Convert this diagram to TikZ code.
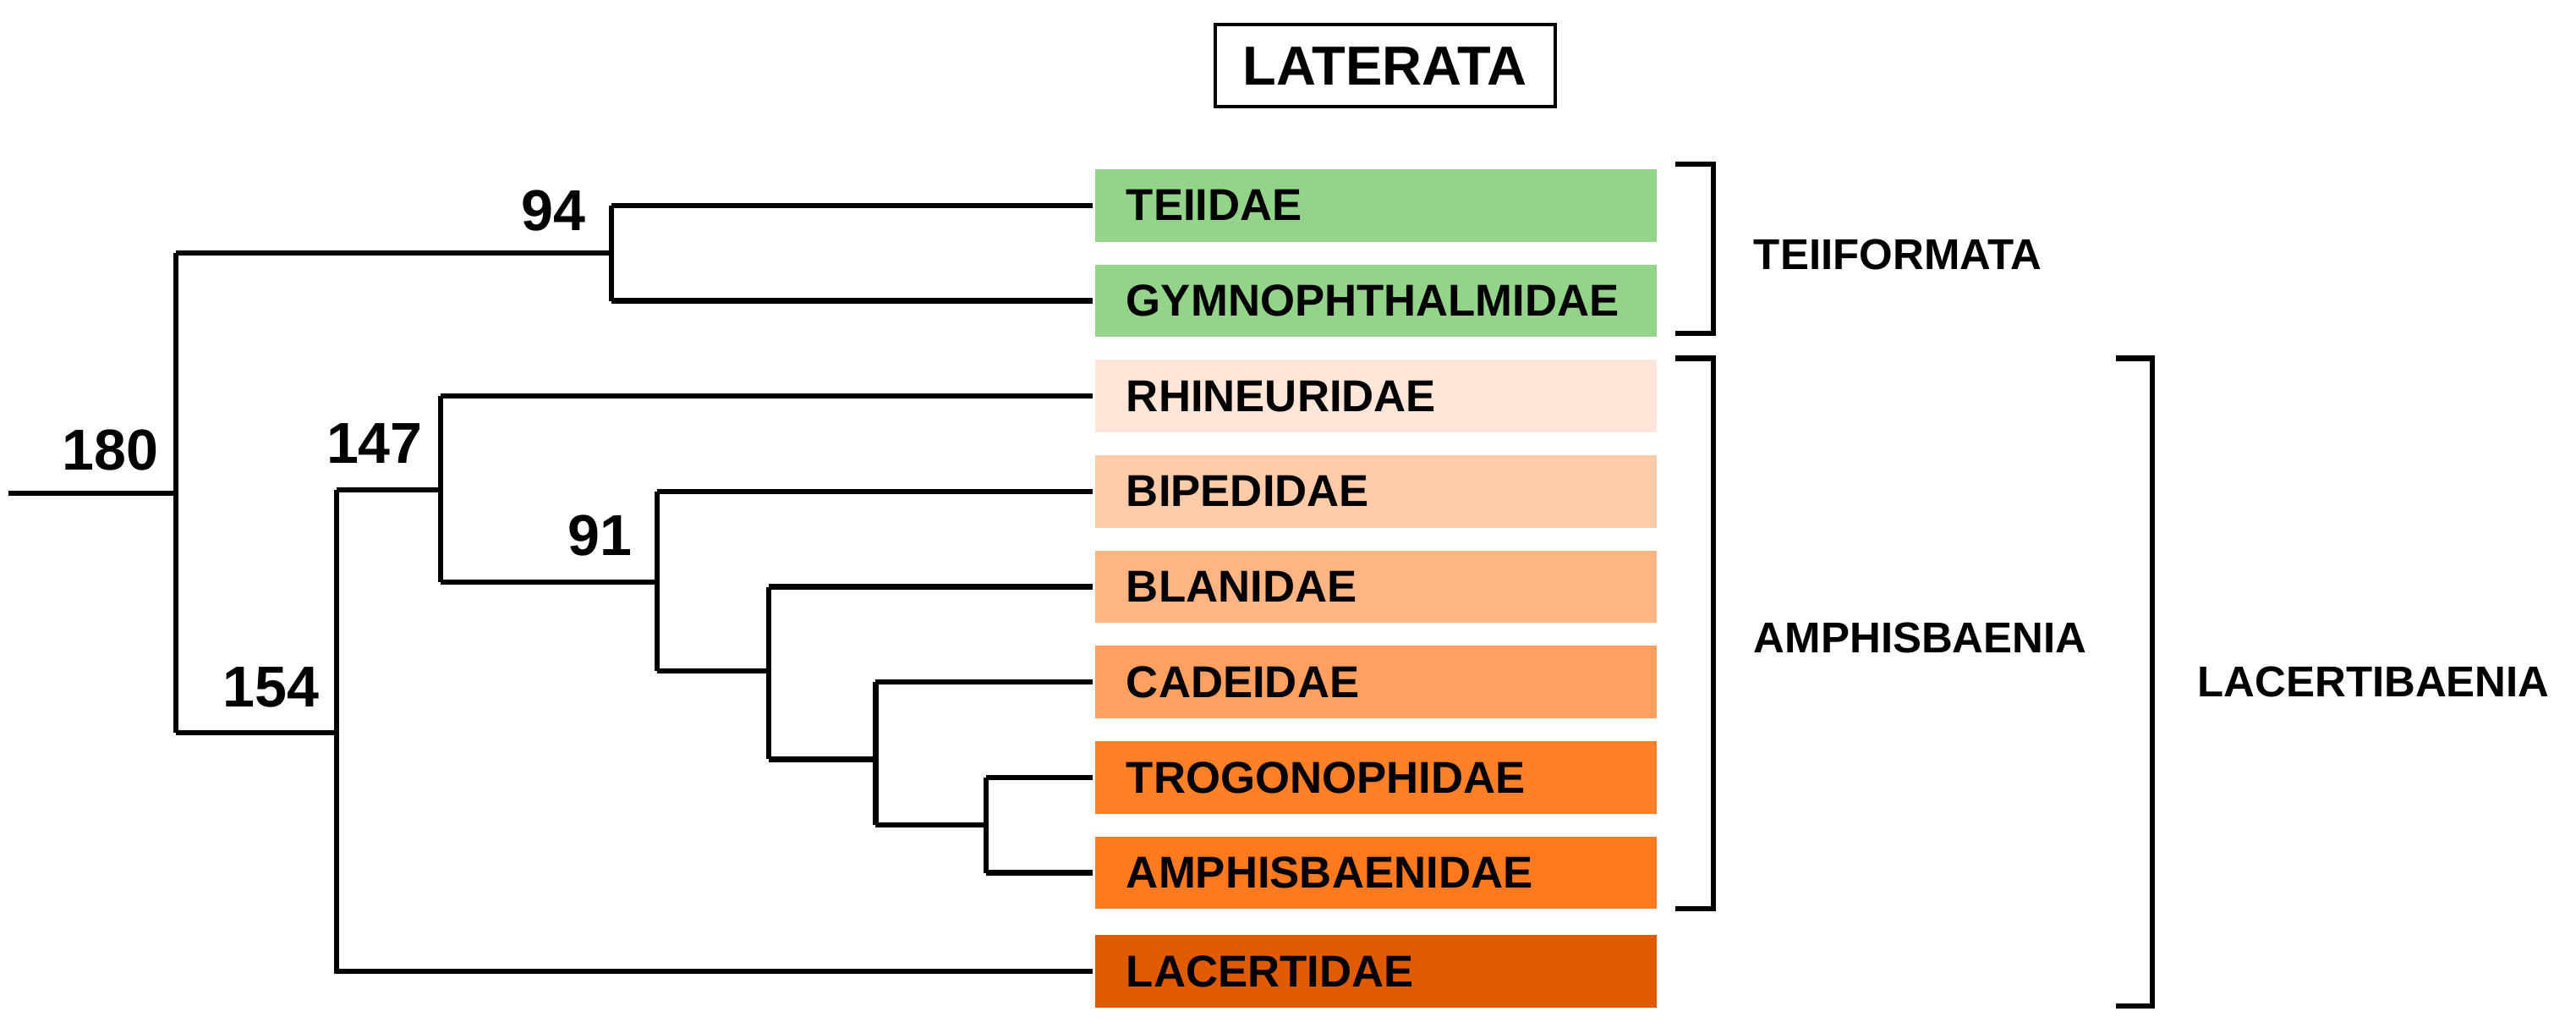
\documentclass[tikz,border=0pt]{standalone}
\usepackage{fontspec}
\setmainfont{Liberation Sans}
\begin{document}
\begin{tikzpicture}[x=0.019426cm,y=-0.019426cm,line width=1.75pt,
  taxon/.style={minimum width=6.64cm,minimum height=0.855cm,inner sep=0pt,anchor=west,font=\fontsize{15}{17}\selectfont\bfseries,text width=5.9cm,align=left},
  lab/.style={font=\fontsize{14.5}{17}\selectfont\bfseries},
  num/.style={font=\fontsize{19.4}{22}\selectfont\bfseries}]
\useasboundingbox (0,0) rectangle (1568,625);
\definecolor{cg}{HTML}{94D38A}
\definecolor{c1}{HTML}{FFE6D8}
\definecolor{c2}{HTML}{FFCBA8}
\definecolor{c3}{HTML}{FFB483}
\definecolor{c4}{HTML}{FFA060}
\definecolor{c5}{HTML}{FF8026}
\definecolor{c6}{HTML}{FF7A1E}
\definecolor{c7}{HTML}{E05A00}
\node[draw,font=\fontsize{18.5}{21}\selectfont\bfseries,minimum width=4.02cm,minimum height=0.97cm,line width=1.2pt] (lat) at (843,40) {LATERATA};
\node[taxon,fill=cg] (t1) at (665,125) {TEIIDAE};
\node[taxon,fill=cg] (t2) at (665,183) {GYMNOPHTHALMIDAE};
\node[taxon,fill=c1] (t3) at (665,241) {RHINEURIDAE};
\node[taxon,fill=c2] (t4) at (665,299) {BIPEDIDAE};
\node[taxon,fill=c3] (t5) at (665,357) {BLANIDAE};
\node[taxon,fill=c4] (t6) at (665,415) {CADEIDAE};
\node[taxon,fill=c5] (t7) at (665,473) {TROGONOPHIDAE};
\node[taxon,fill=c6] (t8) at (665,531) {AMPHISBAENIDAE};
\node[taxon,fill=c7] (t9) at (665,591) {LACERTIDAE};
% tree
\coordinate (root) at (5,300);
\coordinate (n94) at (372,154);
\coordinate (n154) at (205,446);
\coordinate (n147) at (268,298);
\coordinate (n91) at (400,354);
\coordinate (nb) at (468,408);
\coordinate (nc) at (533,462);
\coordinate (nt) at (600,502);
\draw (root) -- (107,300);
\draw (107,154) -- (107,446);
\draw (107,154) -- (n94); \draw (107,446) -- (n154);
\draw (372,125) -- (372,183);
\draw (372,125) -- (t1.west); \draw (372,183) -- (t2.west);
\draw (205,298) -- (205,591) -- (t9.west);
\draw (205,298) -- (n147);
\draw (268,241) -- (268,354);
\draw (268,241) -- (t3.west); \draw (268,354) -- (n91);
\draw (400,299) -- (400,408);
\draw (400,299) -- (t4.west); \draw (400,408) -- (nb);
\draw (468,357) -- (468,462);
\draw (468,357) -- (t5.west); \draw (468,462) -- (nc);
\draw (533,415) -- (533,502);
\draw (533,415) -- (t6.west); \draw (533,502) -- (nt);
\draw (600,473) -- (600,531);
\draw (600,473) -- (t7.west); \draw (600,531) -- (t8.west);
\node[num] (l180) at (67,274) {180};
\node[num] (l94) at (337,128) {94};
\node[num] (l147) at (228,270) {147};
\node[num] (l91) at (365,326) {91};
\node[num] (l154) at (165,418) {154};
% brackets
\draw (1020,100) -- (1043,100) -- (1043,203) -- (1020,203);
\node[lab,anchor=west] (teiif) at (1060,155) {TEIIFORMATA};
\draw (1020,218) -- (1043,218) -- (1043,553) -- (1020,553);
\node[lab,anchor=west] (amph) at (1060,388) {AMPHISBAENIA};
\draw (1288,218) -- (1310,218) -- (1310,612) -- (1288,612);
\node[lab,anchor=west] (lacb) at (1330,415) {LACERTIBAENIA};
\end{tikzpicture}
\end{document}
